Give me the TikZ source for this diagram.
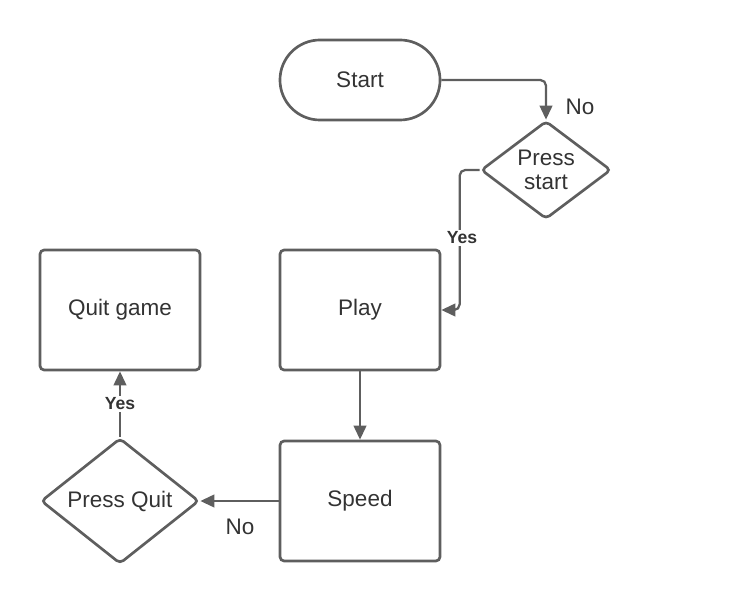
\documentclass[tikz,border=0pt]{standalone}
\usepackage{fontspec}
\setmainfont{Liberation Sans}
\usetikzlibrary{shapes.geometric,arrows.meta}
\definecolor{linegray}{HTML}{5E5E5E}
\definecolor{textgray}{HTML}{333333}
\tikzset{
	box/.style={draw=linegray,line width=1.9pt,rounded corners=3pt,minimum width=4cm,minimum height=3cm,inner sep=0pt,text=textgray,font=\fontsize{16}{18}\selectfont},
	startbox/.style={box,rounded corners=1cm,minimum height=2cm},
	decision/.style={draw=linegray,line width=1.9pt,diamond,rounded corners=3pt,inner sep=0pt,text=textgray,align=center,font=\fontsize{16}{18}\selectfont},
	arr/.style={draw=linegray,line width=1.6pt,rounded corners=4pt,-{Triangle[length=10pt,width=9pt]}},
	lbl/.style={text=textgray,font=\fontsize{16}{18}\selectfont},
	yeslbl/.style={fill=white,inner sep=1pt,text=textgray,font=\fontsize{12.5}{14}\bfseries\selectfont}
}
\begin{document}
\begin{tikzpicture}[x=0.025cm,y=-0.025cm]
	\useasboundingbox (0,0) rectangle (740,602);
	% nodes
	\node[startbox] (start) at (360,80) {Start};
	\node[decision,minimum width=3.25cm,minimum height=2.45cm] (pstart) at (546,170) {Press\\[-1pt]start};
	\node[box] (play) at (360,310) {Play};
	\node[box] (quit) at (120,310) {Quit game};
	\node[box] (speed) at (360,501) {Speed};
	\node[decision,minimum width=3.95cm,minimum height=2.95cm] (pquit) at (120,501) {Press Quit};
	% connectors
	\draw[arr] (start.east) -| (pstart.north);
	\node[lbl] (no1) at (580,107) {No};
	\draw[arr] (pstart.west) -- ++(-20,0) |- (play.east);
	\node[yeslbl] (yes1) at (462,238) {Yes};
	\draw[arr] (play.south) -- (speed.north);
	\draw[arr] (speed.west) -- (pquit.east);
	\node[lbl] (no2) at (240,527) {No};
	\draw[arr] (pquit.north) -- (quit.south);
	\node[yeslbl] (yes2) at (120,404) {Yes};
\end{tikzpicture}
\end{document}
